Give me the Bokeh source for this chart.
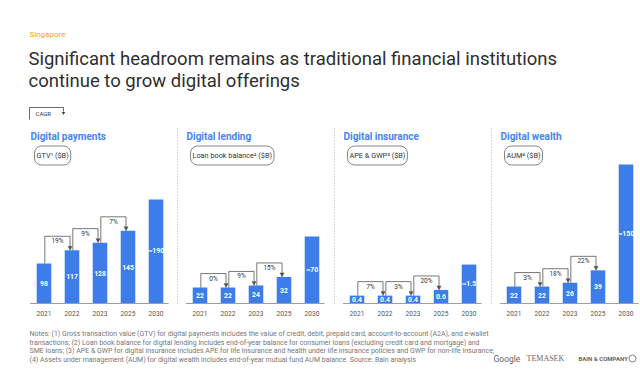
from bokeh.plotting import figure
from bokeh.models import Range1d, Label, Arrow, NormalHead, ColumnDataSource
from bokeh.core.properties import value
from bokeh.embed import file_html
from bokeh.resources import INLINE

# ---------------- data ----------------
years = ["2021", "2022", "2023", "2025", "2030"]

panel_titles = ["Digital payments", "Digital lending", "Digital insurance", "Digital wealth"]
panel_units = ["GTV\u00b9 ($B)", "Loan book balance\u00b2 ($B)", "APE & GWP\u00b3 ($B)", "AUM\u2074 ($B)"]

payments = [98, 117, 128, 145, 190]
lending = [22, 22, 24, 32, 70]
insurance = [0.4, 0.4, 0.4, 0.6, 1.5]
wealth = [22, 22, 26, 39, 150]

payments_labels = ["98", "117", "128", "145", "~190"]
lending_labels = ["22", "22", "24", "32", "~70"]
insurance_labels = ["0.4", "0.4", "0.4", "0.6", "~1.5"]
wealth_labels = ["22", "22", "26", "39", "~150"]

payments_cagr = ["19%", "9%", "7%"]
lending_cagr = ["0%", "9%", "15%"]
insurance_cagr = ["7%", "3%", "20%"]
wealth_cagr = ["3%", "18%", "22%"]

notes = [
    "Notes: (1) Gross transaction value (GTV) for digital payments includes the value of credit, debit, prepaid card, account-to-account (A2A), and e-wallet",
    "transactions; (2) Loan book balance for digital lending includes end-of-year balance for consumer loans (excluding credit card and mortgage) and",
    "SME loans; (3) APE & GWP for digital insurance includes APE for life insurance and health under life insurance policies and GWP for non-life insurance;",
    "(4) Assets under management (AUM) for digital wealth includes end-of-year mutual fund AUM balance. Source: Bain analysis",
]

series = [payments, lending, insurance, wealth]
series_labels = [payments_labels, lending_labels, insurance_labels, wealth_labels]
series_cagr = [payments_cagr, lending_cagr, insurance_cagr, wealth_cagr]

# ---------------- layout / style ----------------
W, H = 640, 376
FONT = "Roboto"
BLUE = "#3d7de9"
HEAD_BLUE = "#4285f4"
GRAY = "#555555"
PANEL_LEFT = [21, 177, 334, 491]
BASE_PX = 303          # baseline, pixels from top
BAR_STEP = 28          # pixels between bars
FIRST_BAR = 22.5       # first bar centre, from panel left
AXIS_START = [40.5, 7, 0.12, 4.2]
PX_PER_UNIT = [0.6957, 1.0625, 28.2, 0.953]
LIFT_PX = 14

p = figure(width=W, height=H, x_range=Range1d(0, W), y_range=Range1d(H, 0),
           output_backend="svg", toolbar_location=None, min_border=0,
           x_axis_location=None, y_axis_location=None)
p.grid.visible = False
p.outline_line_color = None
p.background_fill_color = "white"
p.border_fill_color = "white"

# header
p.text(x=[29], y=[34], text=["Singapore"], text_font=value(FONT), text_font_size="8px",
       text_color="#f4a21d", text_baseline="middle")
p.text(x=[28, 28], y=[58, 80],
       text=["Significant headroom remains as traditional financial institutions",
             "continue to grow digital offerings"],
       text_font=value(FONT), text_font_size="18.5px", text_color="#2e2e2e", text_baseline="middle")

# CAGR key
p.multi_line(xs=[[29, 29, 63, 63]], ys=[[119, 107, 107, 111]], line_color="#444444", line_width=0.8)
p.scatter(x=[63], y=[112.5], marker="inverted_triangle", size=3.5, fill_color="#444444", line_color=None)
p.text(x=[35], y=[113], text=["CAGR"], text_font=value(FONT), text_font_size="6px",
       text_color="#333333", text_baseline="middle")

idx = list(range(len(years)))
for i in range(4):
    left = PANEL_LEFT[i]
    base = AXIS_START[i]
    k = PX_PER_UNIT[i]
    vals = series[i]
    xn, yn = f"x{i}", f"y{i}"
    c0 = left + FIRST_BAR
    p.extra_x_ranges[xn] = Range1d(start=-c0 / BAR_STEP, end=(W - c0) / BAR_STEP)
    p.extra_y_ranges[yn] = Range1d(start=base - (H - BASE_PX) / k, end=base + BASE_PX / k)

    # separator
    if i > 0:
        p.segment(x0=[left], y0=[128], x1=[left], y1=[BASE_PX], line_color="#b5b5b5",
                  line_width=1, line_dash="1 2")

    # heading and unit pill
    p.text(x=[left + 9], y=[136], text=[panel_titles[i]], text_font=value(FONT),
           text_font_size="10px", text_font_style="bold", text_color=HEAD_BLUE,
           text_baseline="middle")
    p.add_layout(Label(x=left + 13, y=155, text=panel_units[i], text_font=FONT,
                       text_font_size="7.3px", text_color="#333333", text_baseline="middle",
                       border_line_color="#666666", border_line_width=0.8, border_radius=7,
                       padding=(2, 5), background_fill_color="white"))

    # bars
    p.vbar(x=idx, top=vals, bottom=base, width=0.52, fill_color=BLUE, line_color=None,
           x_range_name=xn, y_range_name=yn)
    p.text(x=idx, y=[(base + v) / 2 for v in vals], text=series_labels[i],
           text_font=value(FONT), text_font_size="6.8px", text_font_style="bold",
           text_color="white", text_align="center", text_baseline="middle",
           x_range_name=xn, y_range_name=yn)

    # baseline and year labels
    p.segment(x0=[-0.5], x1=[4.45], y0=[BASE_PX], y1=[BASE_PX], line_color="#9e9e9e",
              line_width=1, x_range_name=xn)
    p.text(x=idx, y=[313] * len(years), text=years, text_font=value(FONT),
           text_font_size="6.6px", text_color="#555555", text_align="center",
           text_baseline="middle", x_range_name=xn)

    # CAGR brackets
    xs, ys, ax0, ay0, ax1, ay1, lx, ly = [], [], [], [], [], [], [], []
    for j, lab in enumerate(series_cagr[i]):
        a, b = vals[j], vals[j + 1]
        top = max(a, b) + LIFT_PX / k
        xl, xr = j + 0.03, j + 1 - 0.07
        xs.append([xl, xl, xr])
        ys.append([a, top, top])
        ax0.append(xr); ay0.append(top); ax1.append(xr); ay1.append(b)
        lx.append((xl + xr) / 2); ly.append(top - 5 / k)
    p.multi_line(xs=xs, ys=ys, line_color=GRAY, line_width=0.8,
                 x_range_name=xn, y_range_name=yn)
    p.add_layout(Arrow(end=NormalHead(size=4, fill_color=GRAY, line_color=GRAY, line_width=0.5),
                       x_start="x0", y_start="y0", x_end="x1", y_end="y1",
                       source=ColumnDataSource(dict(x0=ax0, y0=ay0, x1=ax1, y1=ay1)),
                       line_color=GRAY, line_width=0.8, x_range_name=xn, y_range_name=yn))
    p.text(x=lx, y=ly, text=series_cagr[i], text_font=value(FONT), text_font_size="6.5px",
           text_color="#333333", text_align="center", text_baseline="middle",
           x_range_name=xn, y_range_name=yn)

# notes
p.text(x=[29] * len(notes), y=[333.5, 342, 350.5, 359], text=notes, text_font=value(FONT),
       text_font_size="7px", text_color="#777777", text_baseline="middle")

# footer logos
p.text(x=[493], y=[358], text=["Google"], text_font=value(FONT), text_font_size="8.5px",
       text_color="#666666", text_baseline="middle")
p.text(x=[526], y=[358], text=["TEMASEK"], text_font=value("Liberation Serif"),
       text_font_size="8px", text_color="#666666", text_baseline="middle")
p.text(x=[578], y=[358], text=["BAIN & COMPANY"], text_font=value(FONT),
       text_font_size="6px", text_font_style="bold", text_color="#666666",
       text_baseline="middle")
p.scatter(x=[632], y=[358], marker="circle", size=7, fill_color=None, line_color="#666666",
          line_width=0.8)

open("out.html", "w").write(file_html(p, INLINE))
